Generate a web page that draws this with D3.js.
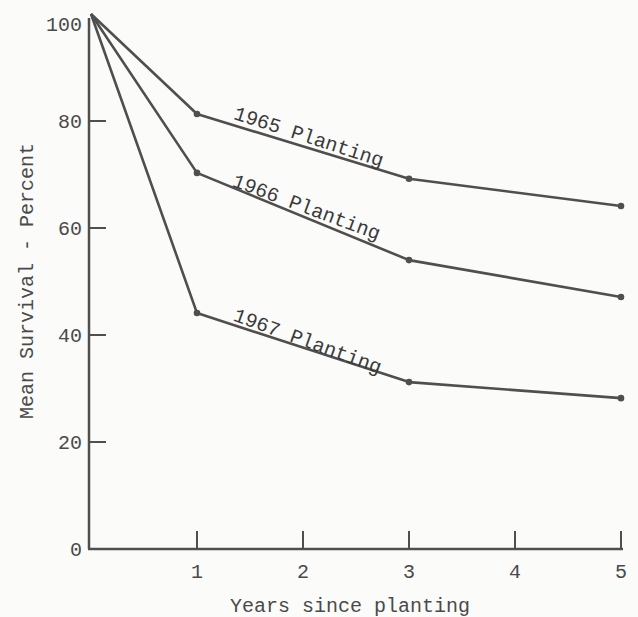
<!DOCTYPE html>
<meta charset="utf-8">
<style>
body { margin: 0; background: #fbfbf9; }
text { font-family: "Liberation Mono", "DejaVu Sans Mono", monospace; fill: #4a4a4a; }
</style>
<body>
<svg width="638" height="617"></svg>
<script src="https://cdn.jsdelivr.net/npm/d3@7"></script>
<script>

// years since planting
var years = [0, 1, 3, 5];

// mean survival, percent
var s1965 = [100, 81.3, 69.2, 64.1];
var s1966 = [100, 70.3, 54.0, 47.1];
var s1967 = [100, 44.1, 31.2, 28.2];

var seriesNames = ["1965 Planting", "1966 Planting", "1967 Planting"];

var xTicks = [1, 2, 3, 4, 5];
var yTicks = [0, 20, 40, 60, 80, 100];

var svg = d3.select("svg");
var ink = "#4f4f4f";

var x = d3.scaleLinear().domain([0, 5]).range([91, 621]);
var y = d3.scaleLinear().domain([0, 100]).range([549, 14]);

// axes lines
svg.append("line")
  .attr("x1", 89).attr("x2", 89)
  .attr("y1", y(0)).attr("y2", y(100) + 4)
  .style("stroke", ink).style("stroke-width", 2.5);
svg.append("line")
  .attr("x1", 88).attr("x2", x(5) + 2)
  .attr("y1", y(0)).attr("y2", y(0))
  .style("stroke", ink).style("stroke-width", 2.5);

// y ticks, inside
svg.selectAll(".ytick")
  .data(yTicks.filter(function(d){ return d > 0 && d < 100; }))
  .enter().append("line")
  .attr("class", "ytick")
  .attr("x1", 89).attr("x2", 106)
  .attr("y1", y).attr("y2", y)
  .style("stroke", ink).style("stroke-width", 2);

svg.selectAll(".ylab")
  .data(yTicks)
  .enter().append("text")
  .attr("class", "ylab")
  .attr("x", 82)
  .attr("y", function(d){ return d == 100 ? y(d) + 10 : y(d); })
  .attr("dy", "0.35em")
  .attr("text-anchor", "end")
  .style("font-size", "20px")
  .text(function(d){ return d; });

// x ticks, inside
svg.selectAll(".xtick")
  .data(xTicks)
  .enter().append("line")
  .attr("class", "xtick")
  .attr("x1", x).attr("x2", x)
  .attr("y1", y(0)).attr("y2", y(0) - 18)
  .style("stroke", ink).style("stroke-width", 2);

svg.selectAll(".xlab")
  .data(xTicks)
  .enter().append("text")
  .attr("class", "xlab")
  .attr("x", x)
  .attr("y", 578)
  .attr("text-anchor", "middle")
  .style("font-size", "20px")
  .text(function(d){ return d; });

svg.append("text")
  .attr("x", 350)
  .attr("y", 612)
  .attr("text-anchor", "middle")
  .style("font-size", "20px")
  .text("Years since planting");

svg.append("text")
  .attr("transform", "translate(33,281) rotate(-90)")
  .attr("text-anchor", "middle")
  .style("font-size", "20px")
  .text("Mean Survival - Percent");

// series
var all = [s1965, s1966, s1967];
var line = d3.line()
  .x(function(d, i){ return x(years[i]); })
  .y(function(d){ return y(d); });

all.forEach(function(vals, k){
  svg.append("path")
    .attr("d", line(vals))
    .style("fill", "none")
    .style("stroke", ink)
    .style("stroke-width", 2.6)
    .style("stroke-linejoin", "round");

  svg.selectAll(".pt" + k)
    .data(vals.slice(1))
    .enter().append("circle")
    .attr("class", "pt" + k)
    .attr("cx", function(d, i){ return x(years[i + 1]); })
    .attr("cy", y)
    .attr("r", 3.3)
    .style("fill", ink);

  // label along the 1 -> 3 year segment
  var x0 = x(years[1]), y0 = y(vals[1]);
  var x1 = x(years[2]), y1 = y(vals[2]);
  var ang = Math.atan2(y1 - y0, x1 - x0) * 180 / Math.PI;
  var t = 0.16;
  var lift = [6, 1, 4][k];
  var tilt = [1, -2, 2][k];
  var px = x0 + t * (x1 - x0), py = y0 + t * (y1 - y0);
  svg.append("text")
    .attr("transform", "translate(" + px + "," + py + ") rotate(" + (ang + tilt) + ") translate(0," + (-lift) + ")")
    .style("font-size", "20px")
    .style("fill", "#3a3a3a")
    .text(seriesNames[k]);
});

</script>
</body>
